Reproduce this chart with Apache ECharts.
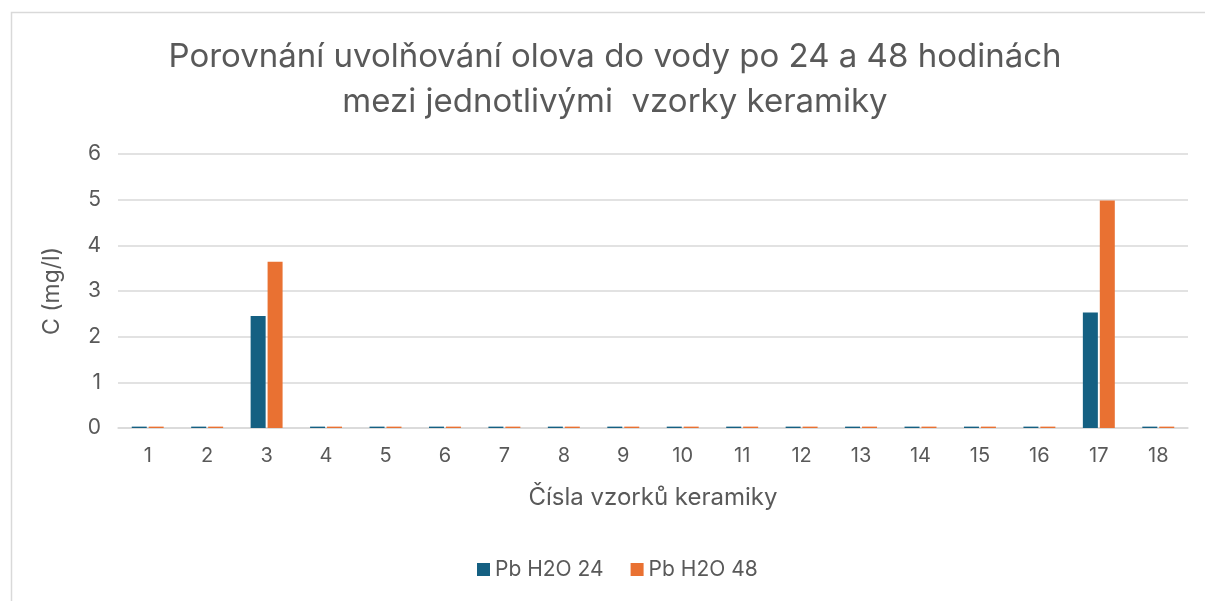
<!DOCTYPE html>
<html>
<head>
<meta charset="utf-8">
<script src="https://cdn.jsdelivr.net/npm/echarts@6/dist/echarts.min.js"></script>
<style>html,body{margin:0;padding:0;background:#fff;}#c{width:1205px;height:601px;}</style>
</head>
<body>
<div id="c"></div>
<script>
const categories = ['1','2','3','4','5','6','7','8','9','10','11','12','13','14','15','16','17','18'];
const seriesNames = ['Pb H2O 24', 'Pb H2O 48'];
const pb24 = [0.03,0.03,2.45,0.03,0.03,0.03,0.03,0.03,0.03,0.03,0.03,0.03,0.03,0.03,0.03,0.03,2.53,0.03];
const pb48 = [0.03,0.03,3.64,0.03,0.03,0.03,0.03,0.03,0.03,0.03,0.03,0.03,0.03,0.03,0.03,0.03,4.98,0.03];
const titleText = 'Porovnání uvolňování olova do vody po 24 a 48 hodinách\nmezi jednotlivými  vzorky keramiky';
const xName = 'Čísla vzorků keramiky';
const yName = 'C (mg/l)';

const font = 'Inter, Open Sans, sans-serif';
const chart = echarts.init(document.getElementById('c'), null, {renderer: 'canvas'});
chart.setOption({
  animation: false,
  backgroundColor: '#fff',
  graphic: [{
    type: 'rect', left: 9, top: 10,
    shape: {width: 1300, height: 700},
    style: {fill: 'none', stroke: '#d9d9d9', lineWidth: 1.5}
  }],
  title: {
    text: titleText, left: 610, top: 30, textAlign: 'center',
    textStyle: {fontFamily: font, fontSize: 33, fontWeight: 'normal', color: '#595959', lineHeight: 45}
  },
  legend: {
    data: seriesNames, bottom: 16, left: 472,
    itemWidth: 13, itemHeight: 13, itemGap: 27, icon: 'rect',
    textStyle: {fontFamily: font, fontSize: 21, color: '#595959'}
  },
  grid: {left: 118, right: 17, top: 154, bottom: 173, containLabel: false},
  xAxis: {
    type: 'category', data: categories,
    name: xName, nameLocation: 'middle', nameGap: 58,
    nameTextStyle: {fontFamily: font, fontSize: 24, color: '#595959'},
    axisLine: {lineStyle: {color: '#d9d9d9', width: 1.5}},
    axisTick: {show: false},
    axisLabel: {fontFamily: font, fontSize: 20, color: '#595959', margin: 18}
  },
  yAxis: {
    type: 'value', min: 0, max: 6, interval: 1,
    name: yName, nameLocation: 'middle', nameGap: 54, nameRotate: 90,
    nameTextStyle: {fontFamily: font, fontSize: 23, color: '#595959'},
    axisLine: {show: false}, axisTick: {show: false},
    axisLabel: {fontFamily: font, fontSize: 21, color: '#595959', margin: 17},
    splitLine: {lineStyle: {color: '#d9d9d9', width: 1.5}}
  },
  series: [
    {name: seriesNames[0], type: 'bar', data: pb24, barWidth: 15, barGap: '13%',
     itemStyle: {color: '#156082'}},
    {name: seriesNames[1], type: 'bar', data: pb48, barWidth: 15, barGap: '13%',
     itemStyle: {color: '#E97132'}}
  ]
});
</script>
</body>
</html>
